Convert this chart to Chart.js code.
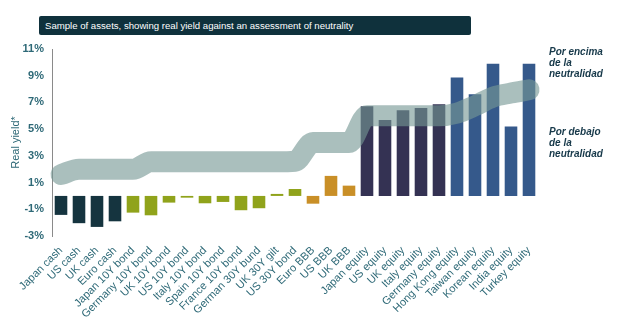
<!DOCTYPE html>
<html>
<head>
<meta charset="utf-8">
<script src="https://cdn.jsdelivr.net/npm/chart.js@4/dist/chart.umd.min.js"></script>
<style>
  body { margin: 0; background: #fff; font-family: "Liberation Sans", Arial, sans-serif; }
  #wrap { position: relative; width: 620px; height: 323px; }
  #title {
    position: absolute; left: 39px; top: 16px; width: 432px; height: 19px;
    background: #0f313c; border-radius: 2px; color: #fff; font-size: 9.6px;
    line-height: 19px; padding-left: 6px; box-sizing: border-box;
  }
  .note {
    position: absolute; left: 549px; color: #17394a; font-size: 10px;
    font-weight: bold; font-style: italic; line-height: 11px;
  }
</style>
</head>
<body>
<div id="wrap">
  <canvas id="myChart" width="620" height="323"></canvas>
  <div id="title">Sample of assets, showing real yield against an assessment of neutrality</div>
  <div class="note" style="top:46px">Por encima<br>de la<br>neutralidad</div>
  <div class="note" style="top:126px">Por debajo<br>de la<br>neutralidad</div>
</div>
<script>
// asset names along the x axis
var labels = ["Japan cash", "US cash", "UK cash", "Euro cash",
  "Japan 10Y bond", "Germany 10Y bond", "UK 10Y bond", "US 10Y bond", "Italy 10Y bond",
  "Spain 10Y bond", "France 10Y bond", "German 30Y bund", "UK 30Y gilt", "US 30Y bond",
  "Euro BBB", "US BBB", "UK BBB",
  "Japan equity", "US equity", "UK equity", "Italy equity", "Germany equity",
  "Hong Kong equity", "Taiwan equity", "Korean equity", "India equity", "Turkey equity"];

// real yield, %
var realYield = [-1.42, -2.04, -2.32, -1.9,
  -1.25, -1.45, -0.5, -0.13, -0.55, -0.45, -1.07, -0.92, 0.15, 0.52,
  -0.58, 1.5, 0.77,
  6.72, 5.69, 6.42, 6.59, 6.87,
  8.86, 7.62, 9.9, 5.19, 9.9];

// asset group of each bar
var group = ["cash", "cash", "cash", "cash",
  "bond", "bond", "bond", "bond", "bond", "bond", "bond", "bond", "bond", "bond",
  "bbb", "bbb", "bbb",
  "dm", "dm", "dm", "dm", "dm",
  "em", "em", "em", "em", "em"];

// assessed neutral level (centre of the grey band), %
var neutral = [1.6, 2.0, 2.0, 2.0,
  2.0, 2.55, 2.55, 2.55, 2.55, 2.55, 2.55, 2.55, 2.55, 2.6,
  4.0, 4.0, 4.0,
  6.0, 6.0, 6.0, 6.0, 6.0,
  6.2, 6.75, 7.4, 7.7, 7.95];

var yTicks = [-3, -1, 1, 3, 5, 7, 9, 11];

var groupColors = { cash: "#15343f", bond: "#90a31b", bbb: "#c98f27", dm: "#343253", em: "#35598b" };
var teal = "#2e6977";

var ctx = document.getElementById('myChart').getContext('2d');
var chart = new Chart(ctx, {
  type: 'bar',
  data: {
    labels: labels,
    datasets: [{
      type: 'line',
      data: neutral,
      borderColor: 'rgba(118,152,149,0.62)',
      borderWidth: 21,
      borderCapStyle: 'round',
      borderJoinStyle: 'round',
      cubicInterpolationMode: 'monotone',
      pointRadius: 0,
      fill: false,
      order: 0
    }, {
      data: realYield,
      backgroundColor: group.map(function (g) { return groupColors[g]; }),
      barPercentage: 0.7,
      categoryPercentage: 1,
      order: 1
    }]
  },
  options: {
    responsive: false,
    animation: false,
    layout: { padding: { top: 49, right: 82, left: 9, bottom: 0 } },
    plugins: { legend: { display: false }, tooltip: { enabled: false } },
    scales: {
      x: {
        grid: { display: false },
        border: { display: false },
        afterFit: function (s) { s.height = 87; },
        ticks: {
          autoSkip: false, maxRotation: 45, minRotation: 45, padding: 0,
          color: teal, font: { family: "Liberation Sans", size: 11 }
        }
      },
      y: {
        min: -3, max: 11,
        afterFit: function (s) { s.width = 43; },
        afterBuildTicks: function (s) { s.ticks = yTicks.map(function (v) { return { value: v }; }); },
        border: { display: true, color: '#8a8a8a', width: 1 },
        grid: {
          drawTicks: false,
          color: function (c) { return c.tick && c.tick.value === 0 ? '#6f6f6f' : 'rgba(0,0,0,0)'; },
          lineWidth: 1
        },
        title: {
          display: true, text: 'Real yield*', color: teal, padding: 0,
          font: { family: "Liberation Sans", size: 11 }
        },
        ticks: {
          padding: 8, color: teal,
          font: { family: "Liberation Sans", size: 11, weight: 'bold' },
          callback: function (v) { return v + '%'; }
        }
      }
    }
  }
});
</script>
</body>
</html>
